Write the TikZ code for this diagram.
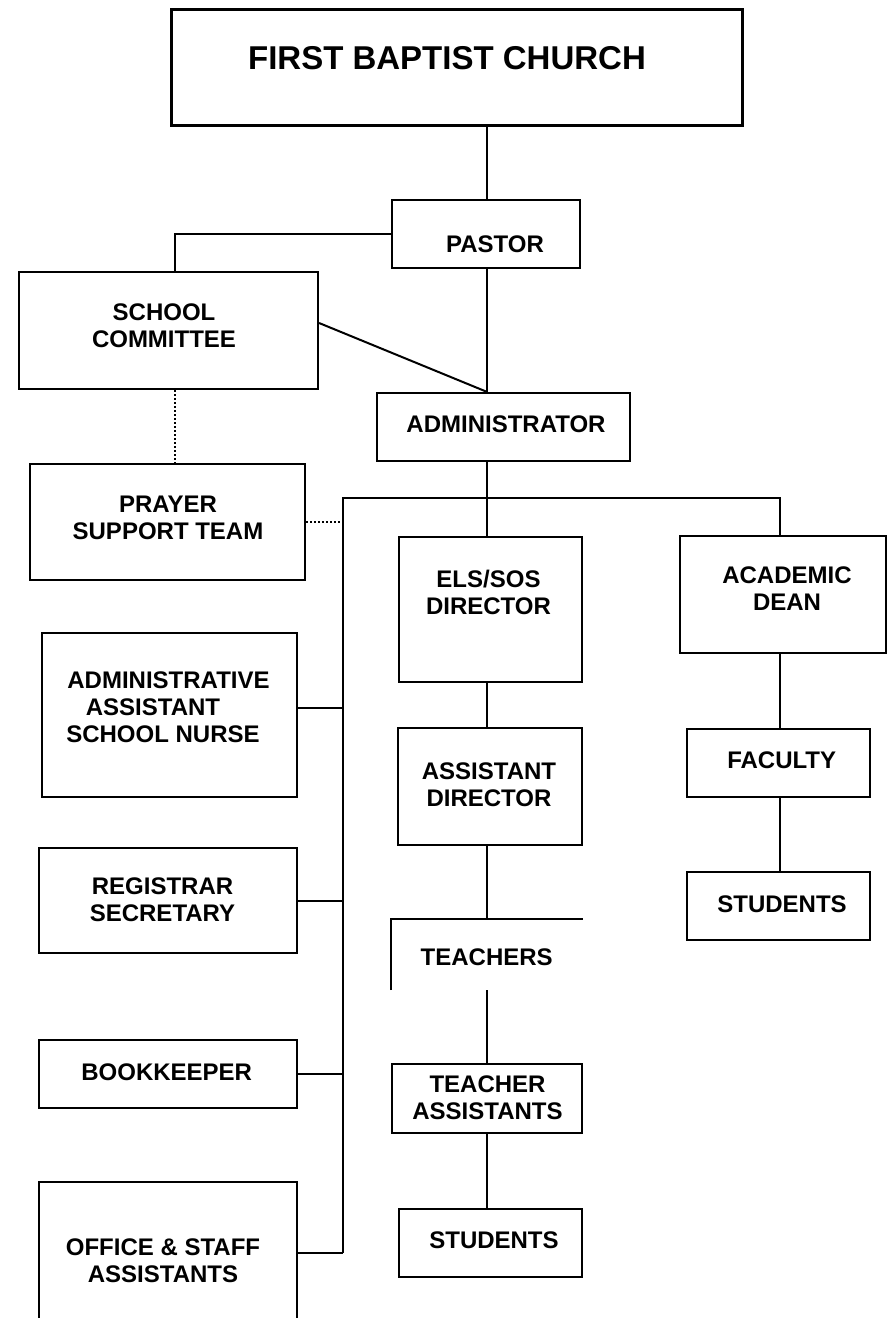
\documentclass[tikz,border=0pt]{standalone}
\usepackage{fontspec}
\setmainfont{Liberation Sans}
\usetikzlibrary{fit}
\begin{document}
\begin{tikzpicture}[x=1pt,y=-1pt,
  box/.style={draw, inner sep=0pt, line width=2.2pt},
  boxline/.style={line width=2.2pt},
  txt/.style={font=\bfseries\fontsize{24}{27}\selectfont, align=center, inner sep=0pt},
  link/.style={line width=2pt},
  dotlink/.style={line width=2pt, dash pattern=on 2pt off 2pt}]
\fill[white] (0,0) rectangle (892,1318);
\useasboundingbox (0,0) rectangle (892,1318);

% top
\node[box, line width=3pt, fit={(171,9) (742,125)}] (fbc) {};
\node[txt, font=\bfseries\fontsize{33}{38}\selectfont] (fbcT) at (447,58.2) {FIRST BAPTIST CHURCH};
\node[box, fit={(392,200) (580,268)}] (pastor) {};
\node[txt] (pastorT) at (495,244.4) {PASTOR};
\node[box, fit={(19,272) (318,389)}] (school) {};
\node[txt] (schoolT) at (164,325.4) {SCHOOL\\COMMITTEE};
\node[box, fit={(377,393) (630,461)}] (admin) {};
\node[txt] (adminT) at (506,424.4) {ADMINISTRATOR};

% left column
\node[box, fit={(30,464) (305,580)}] (prayer) {};
\node[txt] (prayerT) at (168,517.6) {PRAYER\\SUPPORT TEAM};
\node[box, fit={(42,633) (297,797)}] (aa) {};
\node[txt] (aaT) at (168.5,707.4) {ADMINISTRATIVE\\ASSISTANT\rule{31pt}{0pt}\\SCHOOL NURSE\rule{11pt}{0pt}};
\node[box, fit={(39,848) (297,953)}] (reg) {};
\node[txt] (regT) at (162.5,899.9) {REGISTRAR\\SECRETARY};
\node[box, fit={(39,1040) (297,1108)}] (book) {};
\node[txt] (bookT) at (166.7,1072.4) {BOOKKEEPER};
\node[fit={(39,1182) (297,1318)}, inner sep=0pt] (office) {};
\draw[boxline] (office.south west) -- (office.north west) -- (office.north east) -- (office.south east);
\node[txt] (officeT) at (163,1260.4) {OFFICE \& STAFF\\ASSISTANTS};

% middle column
\node[box, fit={(399,537) (582,682)}] (els) {};
\node[txt] (elsT) at (488.5,592) {ELS/SOS\\DIRECTOR};
\node[box, fit={(398,728) (582,845)}] (adir) {};
\node[txt] (adirT) at (489,785) {ASSISTANT\\DIRECTOR};
\node[fit={(391,919) (583,990)}, inner sep=0pt] (teach) {};
\draw[boxline] (teach.south west) -- (teach.north west) -- (teach.north east);
\node[txt] (teachT) at (486.7,957.4) {TEACHERS};
\node[box, fit={(392,1064) (582,1133)}] (ta) {};
\node[txt] (taT) at (487.5,1097.4) {TEACHER\\ASSISTANTS};
\node[box, fit={(399,1209) (582,1277)}] (stud1) {};
\node[txt] (stud1T) at (494,1240.4) {STUDENTS};

% right column
\node[box, fit={(680,536) (886,653)}] (dean) {};
\node[txt] (deanT) at (787,589) {ACADEMIC\\DEAN};
\node[box, fit={(687,729) (870,797)}] (fac) {};
\node[txt] (facT) at (781.7,760.4) {FACULTY};
\node[box, fit={(687,872) (870,940)}] (stud2) {};
\node[txt] (stud2T) at (782,904.4) {STUDENTS};

% helper coordinates
\coordinate (spine) at (487,0);
\coordinate (colx) at (175,0);
\coordinate (busL) at (343,498);
\coordinate (busR) at (780,498);
\coordinate (deanx) at (780,0);
\coordinate (officeC) at ([yshift=-71pt]office.north east);

% connectors
\draw[link] (fbc.south -| spine) -- (pastor.north -| spine);
\draw[link] (pastor.west) -| (school.north -| colx);
\draw[link] ([yshift=7.5pt]school.east) -- (admin.north -| spine);
\draw[link] (pastor.south -| spine) -- (admin.north -| spine);
\draw[dotlink] (school.south -| colx) -- (prayer.north -| colx);
\draw[link] (admin.south -| spine) -- (els.north -| spine);
\draw[link] (dean.north -| busR) |- (busL) -- (officeC -| busL);
\draw[dotlink] (prayer.east) -- (prayer.east -| busL);
\draw[link] ([yshift=7pt]aa.east) -- ([yshift=7pt]aa.east -| busL);
\draw[link] (reg.east) -- (reg.east -| busL);
\draw[link] (book.east) -- (book.east -| busL);
\draw[link] (officeC) -- (officeC -| busL);
\draw[link] (els.south -| spine) -- (adir.north -| spine);
\draw[link] (adir.south -| spine) -- (teach.north -| spine);
\draw[link] (teach.south -| spine) -- (ta.north -| spine);
\draw[link] (ta.south -| spine) -- (stud1.north -| spine);
\draw[link] (dean.south -| deanx) -- (fac.north -| deanx);
\draw[link] (fac.south -| deanx) -- (stud2.north -| deanx);
\end{tikzpicture}
\end{document}
